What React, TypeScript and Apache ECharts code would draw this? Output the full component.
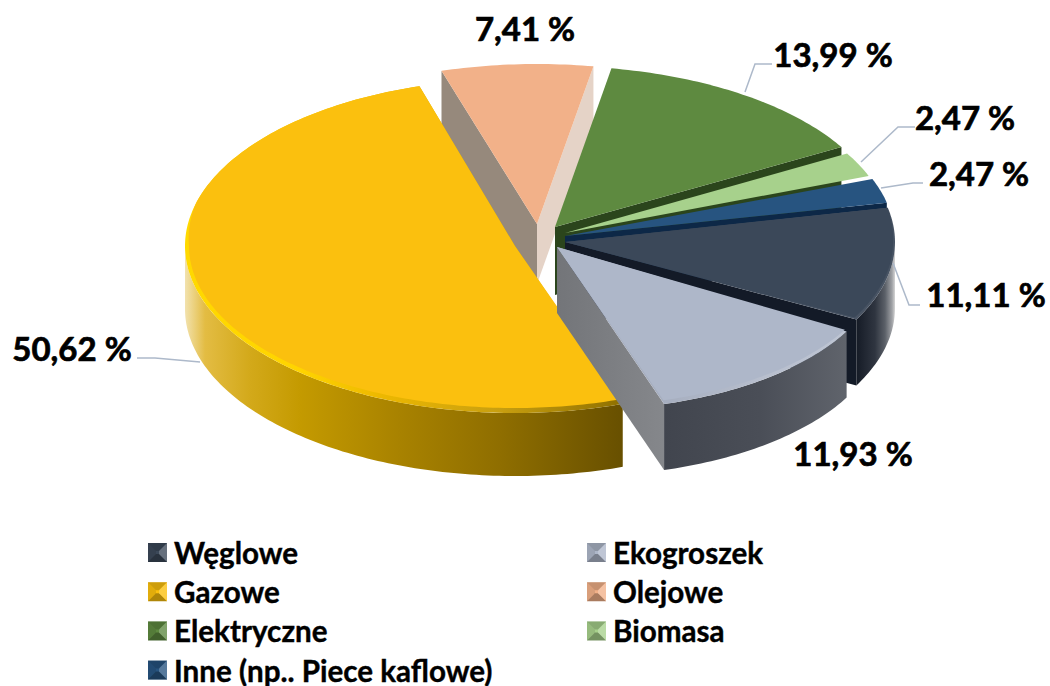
import React, { useEffect, useRef } from "react";
import * as echarts from "echarts";

const categories = ["Węglowe", "Ekogroszek", "Gazowe", "Olejowe", "Elektryczne", "Biomasa", "Inne (np.. Piece kaflowe)"];
const values = [11.11, 11.93, 50.62, 7.41, 13.99, 2.47, 2.47];
const tickLabels = ["11,11 %", "11,93 %", "50,62 %", "7,41 %", "13,99 %", "2,47 %", "2,47 %"];
const legendColumnA = [0, 2, 4, 6];
const legendColumnB = [1, 3, 5];
const paintOrder = [3, 4, 5, 6, 0, 2, 1];

const START_ANGLE = 78;
const total = values.reduce((a, b) => a + b, 0);
const angles: number[] = [];
values.reduce((acc, v) => {
  angles.push(acc);
  return acc + (v / total) * 360;
}, START_ANGLE);

type Stop = [number, string];
type Geo = {
  ax: number; ay: number; rx: number; ry: number; depth: number; skew?: number;
  top: string; face?: string | Stop[]; faceAt?: "start" | "end"; extraFace?: string;
  wall?: Stop[]; bevel?: Stop[]; bx?: number; by?: number;
};

const geometry: Geo[] = [
  { ax: 565, ay: 242, rx: 330, ry: 165, depth: 66, top: "#3B4859", face: "#131A27", faceAt: "end",
    wall: [[857, "#161C27"], [875, "#2F3540"], [885, "#5B6068"], [892, "#A0A2A6"], [895, "#D5D5D5"]],
    bevel: [[700, "#3B4859"], [850, "#4A5565"], [895, "#465262"]], bx: 2, by: 4 },
  { ax: 557, ay: 247, rx: 328, ry: 163, skew: 0.028, depth: 66, top: "#AEB7C9",
    face: [[557, "#737579"], [663, "#85878B"]], faceAt: "end",
    wall: [[663, "#41454E"], [760, "#4A4E57"], [848, "#60646C"]],
    bevel: [[663, "#A6AEBF"], [760, "#B7BECD"], [848, "#BEC5D3"]], bx: 2, by: 4 },
  { ax: 515, ay: 246, rx: 330, ry: 167, depth: 63, top: "#FBC00E",
    wall: [[185, "#F2E2AE"], [205, "#E3BC43"], [250, "#D3A91A"], [300, "#C49A00"], [400, "#A88200"], [500, "#8F6E00"], [622, "#685000"]],
    bevel: [[185, "#FFD900"], [300, "#FFD400"], [380, "#EDB800"], [500, "#C89F10"], [622, "#8F7000"]], bx: 4, by: 5 },
  { ax: 537, ay: 224, rx: 330, ry: 160, depth: 60, top: "#F2B189", face: "#E5D3C7", faceAt: "end", extraFace: "#96897C" },
  { ax: 555, ay: 227, rx: 330, ry: 161, depth: 68, top: "#5E8A40", face: "#2B451C", faceAt: "end" },
  { ax: 565, ay: 233, rx: 325, ry: 160, depth: 60, top: "#A7D18C" },
  { ax: 565, ay: 236, rx: 329, ry: 160, depth: 60, top: "#275480", face: "#0D2847", faceAt: "end" },
];

const labelPlacement: { x: number; y: number; line?: number[][] }[] = [
  { x: 986, y: 294, line: [[920, 305], [909, 305], [893, 263]] },
  { x: 853, y: 453 },
  { x: 72, y: 348, line: [[137, 358], [155, 358], [200, 362]] },
  { x: 525, y: 28 },
  { x: 833, y: 54, line: [[772, 64], [755, 64], [745, 92]] },
  { x: 965, y: 117, line: [[915, 127], [898, 127], [861, 162]] },
  { x: 979, y: 173, line: [[923, 183], [913, 183], [881, 188]] },
];

const FONT = "Lato, Carlito, 'Open Sans', sans-serif";
const LEGEND_ROWS = [552.5, 591.7, 630.9, 670.1];
const LEGEND_COL_X = [148, 587];
const ICON = 19;

const rad = (d: number) => (d * Math.PI) / 180;
const gradient = (stops: Stop[]) => {
  const x0 = stops[0][0];
  const x1 = stops[stops.length - 1][0];
  return {
    type: "linear", global: true, x: x0, y: 0, x2: x1, y2: 0,
    colorStops: stops.map(([x, c]) => ({ offset: (x - x0) / (x1 - x0), color: c })),
  };
};
const rimPoint = (g: Geo, t: number, inset = false, dy = 0) => {
  const cos = Math.cos(rad(t));
  const f = inset ? Math.max(0, Math.min(1, (0.25 - cos) / 0.25)) : 0;
  const rx = g.rx - (g.bx || 0) * f;
  const ry = g.ry - (g.by || 0) * f;
  const x = g.ax + rx * Math.sin(rad(t));
  return [x, g.ay - ry * cos + (x - g.ax) * (g.skew || 0) + dy];
};
const arc = (g: Geo, a: number, b: number, inset = false, dy = 0) => {
  const pts: number[][] = [];
  const n = Math.max(2, Math.ceil(Math.abs(b - a) / 1));
  for (let i = 0; i <= n; i++) pts.push(rimPoint(g, a + ((b - a) * i) / n, inset, dy));
  return pts;
};

const sliceRenderer = (idx: number) => (_params: any, api: any) => {
  const g = geometry[idx];
  const a0 = angles[idx];
  const a1 = a0 + (api.value(0) / total) * 360;
  const children: any[] = [];
  const apex = [g.ax, g.ay];
  const apexLow = [g.ax, g.ay + g.depth];
  const facePoly = (t: number, fill: any) => {
    const p = rimPoint(g, t);
    children.push({ type: "polygon", shape: { points: [apex, p, [p[0], p[1] + g.depth], apexLow] }, style: { fill } });
  };
  if (g.extraFace) facePoly(a0, g.extraFace);
  if (g.face) {
    const fill = typeof g.face === "string" ? g.face : gradient(g.face);
    facePoly(g.faceAt === "end" ? a1 : a0, fill);
  }
  const w0 = Math.max(a0, 90);
  const w1 = Math.min(a1, 270);
  if (g.wall && w1 > w0) {
    const up = arc(g, w0, w1);
    const down = arc(g, w1, w0, false, g.depth);
    children.push({ type: "polygon", shape: { points: up.concat(down) }, style: { fill: gradient(g.wall) } });
  }
  const outer = [apex].concat(arc(g, a0, a1));
  children.push({ type: "polygon", shape: { points: outer }, style: { fill: g.bevel ? gradient(g.bevel) : g.top } });
  if (g.bevel) {
    const inner = [apex].concat(arc(g, a0, a1, true));
    children.push({ type: "polygon", shape: { points: inner }, style: { fill: g.top } });
  }
  return { type: "group", children };
};

const labelGraphics = () => {
  const out: any[] = [];
  tickLabels.forEach((text, i) => {
    const p = labelPlacement[i];
    if (p.line) {
      out.push({ type: "polyline", z: 30, shape: { points: p.line }, style: { stroke: "#ADB9CA", lineWidth: 1.5, fill: "none" } });
    }
    out.push({
      type: "text", z: 30, x: p.x, y: p.y,
      style: { text, fontFamily: FONT, fontWeight: 700, fontSize: 33, fill: "#000", stroke: "#000", lineWidth: 0.7, align: "center", verticalAlign: "middle" },
    });
  });
  return out;
};

const iconBevels = () => {
  const out: any[] = [];
  const add = (x: number, yc: number) => {
    const y = yc - ICON / 2;
    const s = ICON;
    const m = 8;
    const tri = (pts: number[][], fill: string) =>
      out.push({ type: "polygon", z: 30, shape: { points: pts }, style: { fill } });
    tri([[x, y], [x + s, y], [x + s - m, y + m], [x + m, y + m]], "rgba(0,0,0,0.18)");
    tri([[x, y + s], [x + s, y + s], [x + s - m, y + s - m], [x + m, y + s - m]], "rgba(0,0,0,0.30)");
    tri([[x, y], [x, y + s], [x + m, y + s - m], [x + m, y + m]], "rgba(0,0,0,0.10)");
    tri([[x + s, y], [x + s, y + s], [x + s - m, y + s - m], [x + s - m, y + m]], "rgba(255,255,255,0.22)");
  };
  legendColumnA.forEach((_, r) => add(LEGEND_COL_X[0], LEGEND_ROWS[r]));
  legendColumnB.forEach((_, r) => add(LEGEND_COL_X[1], LEGEND_ROWS[r]));
  return out;
};

const legendFor = (indices: number[], left: number) => ({
  orient: "vertical" as const,
  left,
  top: 537,
  height: 190,
  padding: 0,
  itemWidth: ICON,
  itemHeight: ICON,
  itemGap: 8.2,
  icon: "rect",
  selectedMode: false,
  data: indices.map((i) => categories[i]),
  textStyle: {
    fontFamily: FONT, fontWeight: 700, fontSize: 29.6, color: "#000",
    textBorderColor: "#000", textBorderWidth: 0.4,
    lineHeight: 31, padding: [0, 0, 0, 2],
  },
});

export default function App() {
  const ref = useRef<HTMLDivElement>(null);
  useEffect(() => {
    const chart = echarts.init(ref.current!, undefined, { renderer: "svg" });
    chart.setOption({
      animation: false,
      backgroundColor: "#fff",
      legend: [legendFor(legendColumnA, LEGEND_COL_X[0]), legendFor(legendColumnB, LEGEND_COL_X[1])],
      graphic: { elements: [...labelGraphics(), ...iconBevels()] },
      series: paintOrder.map((i) => ({
        type: "custom",
        name: categories[i],
        coordinateSystem: "none",
        silent: true,
        itemStyle: { color: geometry[i].top },
        data: [[values[i]]],
        renderItem: sliceRenderer(i),
      })),
    });
    return () => chart.dispose();
  }, []);
  return <div ref={ref} style={{ position: "absolute", left: 0, top: 0, width: 1050, height: 686 }} />;
}
